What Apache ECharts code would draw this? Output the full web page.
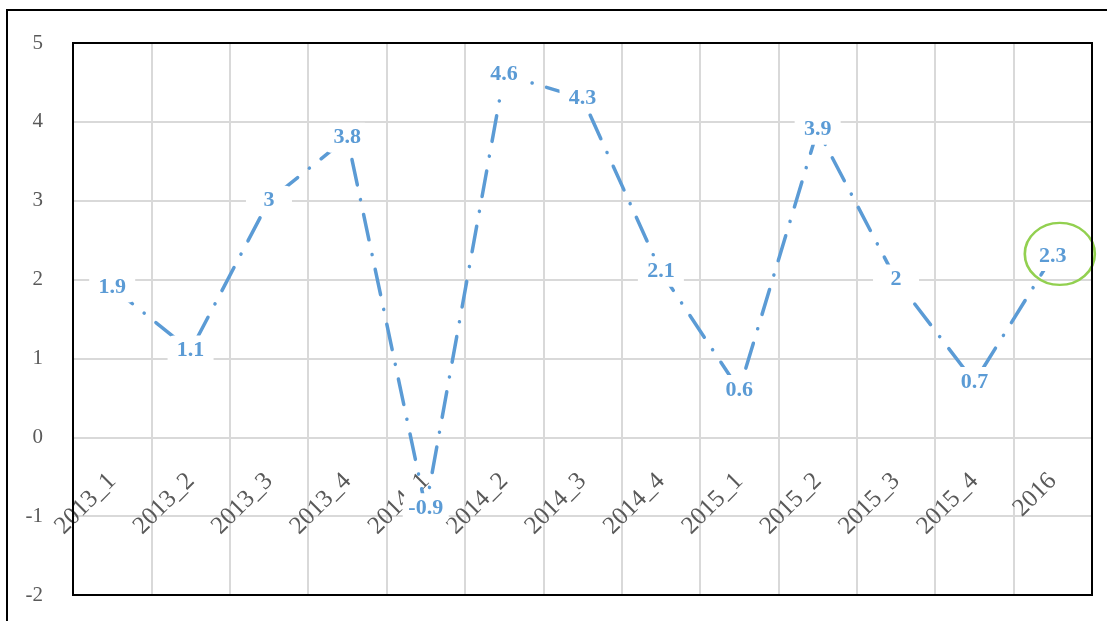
<!DOCTYPE html>
<html>
<head>
<meta charset="utf-8">
<style>
  html, body { margin: 0; padding: 0; background: #fff; }
  #chart { width: 1107px; height: 621px; }
</style>
<script src="https://cdn.jsdelivr.net/npm/echarts@6/dist/echarts.min.js"></script>
</head>
<body>
<div id="chart"></div>
<script>
// Quarterly values, 2013 to 2016
const categories = ['2013_1', '2013_2', '2013_3', '2013_4', '2014_1', '2014_2', '2014_3',
                    '2014_4', '2015_1', '2015_2', '2015_3', '2015_4', '2016'];
const values = [1.9, 1.1, 3, 3.8, -0.9, 4.6, 4.3, 2.1, 0.6, 3.9, 2, 0.7, 2.3];
const yTicks = [-2, -1, 0, 1, 2, 3, 4, 5];
// The point singled out with a ring
const highlightIndex = 12;

const serif = 'Liberation Serif';
const blue = '#5B9BD5';
const gridGray = '#D9D9D9';
const textGray = '#595959';

const W = 1107, H = 621;
const gridBox = { left: 73, top: 43, right: 15, bottom: 26 };
const yMin = yTicks[0], yMax = yTicks[yTicks.length - 1];
const plotHeight = H - gridBox.top - gridBox.bottom;
// lift the category axis from the bottom edge up to the zero line
const zeroLift = -plotHeight * (0 - yMin) / (yMax - yMin);

const chart = echarts.init(document.getElementById('chart'), null, { renderer: 'canvas' });

chart.setOption({
  animation: false,
  backgroundColor: '#fff',
  graphic: [
    {
      // outer frame
      type: 'rect',
      z: 100,
      silent: true,
      shape: { x: 7, y: 10, width: 1200, height: 700 },
      style: { fill: 'none', stroke: '#000', lineWidth: 2 }
    },
    {
      // plot frame
      type: 'rect',
      z: 100,
      silent: true,
      shape: {
        x: gridBox.left, y: gridBox.top,
        width: W - gridBox.left - gridBox.right,
        height: plotHeight
      },
      style: { fill: 'none', stroke: '#000', lineWidth: 2 }
    }
  ],
  grid: {
    left: gridBox.left, top: gridBox.top, right: gridBox.right, bottom: gridBox.bottom,
    show: false,
    containLabel: false,
    outerBoundsMode: 'none'
  },
  xAxis: {
    type: 'category',
    data: categories,
    boundaryGap: true,
    position: 'bottom',
    offset: zeroLift,
    axisLine: { show: false, onZero: false },
    axisTick: { show: false },
    splitLine: { show: true, interval: 0, lineStyle: { color: gridGray, width: 2 } },
    axisLabel: {
      interval: 0,
      rotate: 45,
      margin: 40,
      fontFamily: serif,
      fontSize: 25,
      color: textGray
    }
  },
  yAxis: {
    type: 'value',
    min: yMin,
    max: yMax,
    interval: 1,
    axisLine: { show: false },
    axisTick: { show: false },
    splitLine: { show: true, lineStyle: { color: gridGray, width: 2 } },
    axisLabel: {
      margin: 30,
      fontFamily: serif,
      fontSize: 21,
      color: textGray
    }
  },
  series: [{
    type: 'line',
    data: values,
    symbol: 'circle',
    symbolSize: 1,
    showSymbol: true,
    itemStyle: { color: 'rgba(0,0,0,0)' },
    clip: false,
    z: 3,
    lineStyle: {
      color: blue,
      width: 3.5,
      type: [26, 15, 0.1, 15],
      cap: 'round'
    },
    label: {
      show: true,
      position: 'inside',
      fontFamily: serif,
      fontWeight: 'bold',
      fontSize: 22,
      color: blue,
      backgroundColor: '#fff',
      borderRadius: 6,
      width: 46,
      height: 30,
      lineHeight: 30,
      align: 'center',
      verticalAlign: 'middle'
    },
    markPoint: {
      symbol: 'circle',
      symbolSize: [70, 62],
      symbolOffset: [7, -2],
      silent: true,
      label: { show: false },
      itemStyle: { color: 'rgba(0,0,0,0)', borderColor: '#92D050', borderWidth: 2.5 },
      data: [{ coord: [categories[highlightIndex], values[highlightIndex]] }]
    }
  }]
});
</script>
</body>
</html>
